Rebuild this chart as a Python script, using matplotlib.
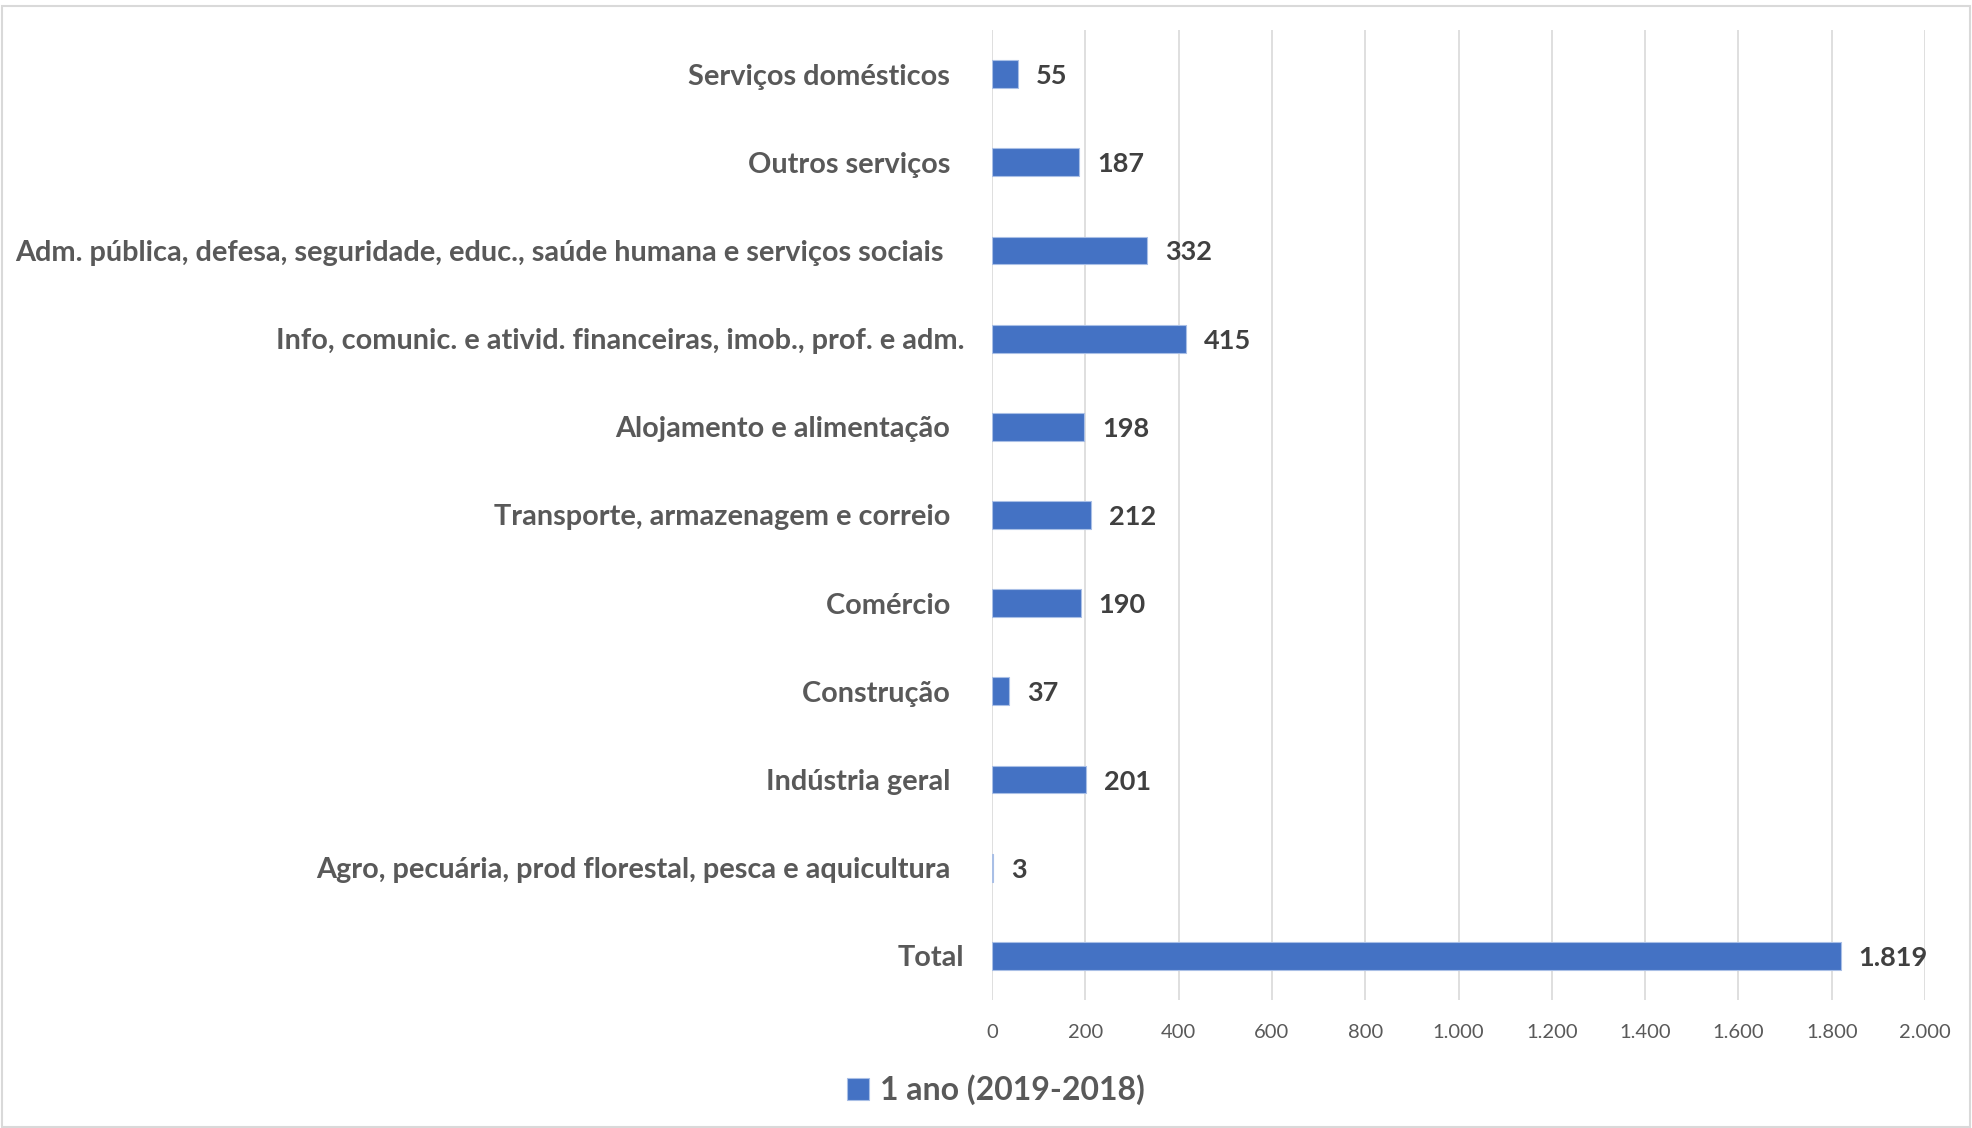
import matplotlib
matplotlib.use("Agg")
import matplotlib.pyplot as plt
from matplotlib.patches import Rectangle

# Setores (de baixo para cima, como aparecem no eixo)
setores = [
    "Total",
    "Agro, pecuária, prod florestal, pesca e aquicultura  ",
    "Indústria geral  ",
    "Construção  ",
    "Comércio  ",
    "Transporte, armazenagem e correio  ",
    "Alojamento e alimentação  ",
    "Info, comunic. e ativid. financeiras, imob., prof. e adm.",
    "Adm. pública, defesa, seguridade, educ., saúde humana e serviços sociais   ",
    "Outros serviços  ",
    "Serviços domésticos  ",
]
valores = [1819, 3, 201, 37, 190, 212, 198, 415, 332, 187, 55]
rotulos = ["1.819", "3", "201", "37", "190", "212", "198", "415", "332", "187", "55"]
ticks_x = [0, 200, 400, 600, 800, 1000, 1200, 1400, 1600, 1800, 2000]
ticks_x_txt = ["0", "200", "400", "600", "800", "1.000", "1.200", "1.400", "1.600", "1.800", "2.000"]
serie = "1 ano (2019-2018)"

AZUL = "#4472C4"
CINZA_TXT = "#595959"
CINZA_GRADE = "#D9D9D9"

plt.rcParams["font.family"] = ["Lato", "DejaVu Sans"]

fig = plt.figure(figsize=(19.72, 11.28), dpi=100)
ax = fig.add_axes([992 / 1972, 1 - 1000 / 1128, (1925 - 992) / 1972, (1000 - 30) / 1128])

pos = range(len(setores))
barras = ax.barh(pos, valores, height=0.315, color=AZUL, edgecolor="#A9BFE6",
                 linewidth=0.8, label=serie, zorder=3)

textos = ax.bar_label(barras, labels=rotulos, padding=13, fontsize=19.5, fontweight="bold",
                      color="#404040")
for t in textos:
    t.set_va("center_baseline")

ax.set_xlim(0, 2000)
ax.set_ylim(-0.5, len(setores) - 0.5)
ax.set_xticks(ticks_x)
ax.set_xticklabels(ticks_x_txt, fontsize=14.5, color=CINZA_TXT)
ax.set_yticks(list(pos))
ax.set_yticklabels(setores, fontsize=20.8, fontweight="bold", color=CINZA_TXT)
ax.tick_params(axis="y", length=0, pad=20)
ax.tick_params(axis="x", length=0, pad=17)

ax.grid(axis="x", color=CINZA_GRADE, linewidth=1.2, zorder=0)
for lado in ["top", "right", "left", "bottom"]:
    ax.spines[lado].set_visible(False)

fig.legend(handles=[barras], labels=[serie], loc="center", bbox_to_anchor=(0.505, 0.034),
           frameon=False, prop={"size": 23, "weight": "bold"}, labelcolor=CINZA_TXT,
           handlelength=0.7, handleheight=0.7, handletextpad=0.35)

# moldura externa clara
fig.patches.append(Rectangle((0.001, 0.001), 0.998, 0.994, transform=fig.transFigure,
                             fill=False, edgecolor=CINZA_GRADE, linewidth=1.5))

fig.savefig("out.png", dpi=100)
